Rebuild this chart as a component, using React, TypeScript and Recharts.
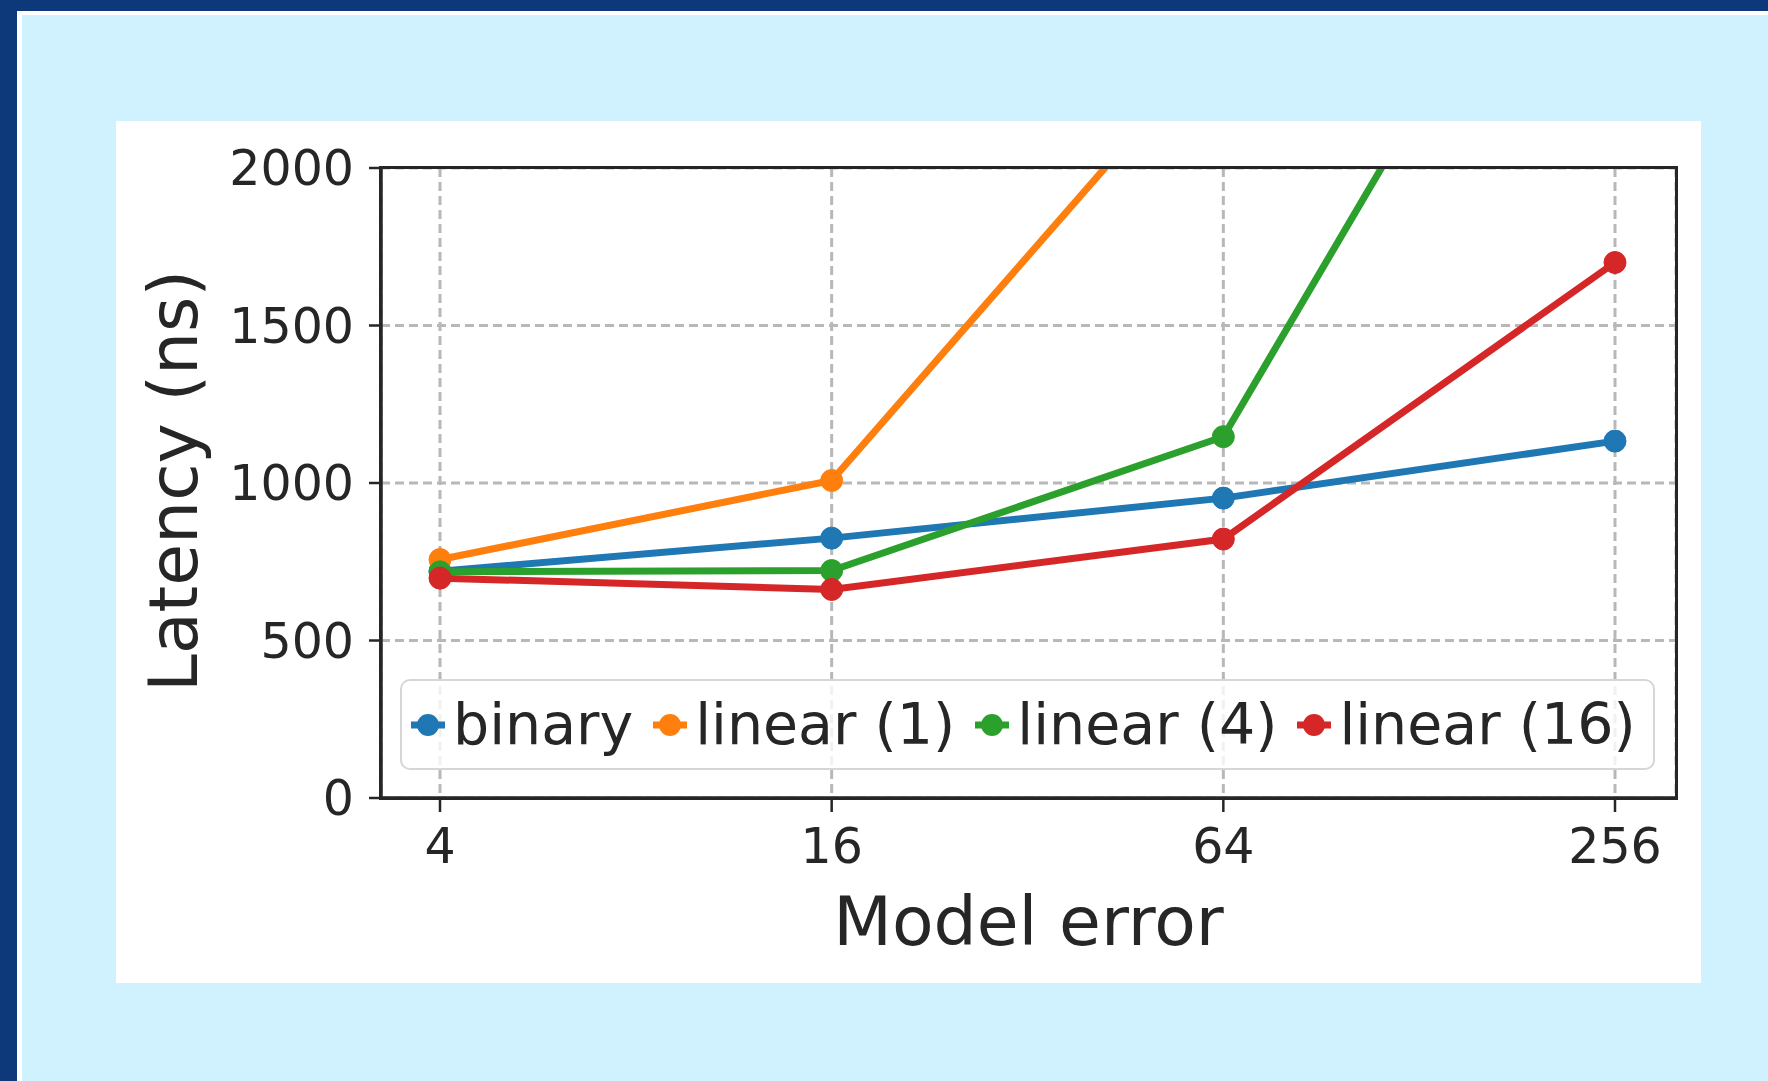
import { LineChart, Line, XAxis, YAxis, CartesianGrid, Legend, Label } from "recharts";

const errors = ["4", "16", "64", "256"];
const binary = [720, 825, 952, 1133];
const linear1 = [757, 1008, 2430, 4500];
const linear4 = [718, 722, 1147, 3260];
const linear16 = [698, 662, 822, 1700];
const yTicks = [0, 500, 1000, 1500, 2000];

const series = [
  { key: "binary", name: "binary", color: "#1f77b4", values: binary },
  { key: "linear1", name: "linear (1)", color: "#ff7f0e", values: linear1 },
  { key: "linear4", name: "linear (4)", color: "#2ca02c", values: linear4 },
  { key: "linear16", name: "linear (16)", color: "#d62728", values: linear16 },
];

const data = errors.map((error, i) => {
  const row: Record<string, string | number> = { error };
  series.forEach((s) => (row[s.key] = s.values[i]));
  return row;
});

const font = '"DejaVu Sans", sans-serif';
const ink = "#262626";

// plot box inside the white panel
const W = 1585;
const H = 862;
const M = { top: 47, right: 25, left: 0, bottom: 0 };
const yAxisW = 265;
const xAxisH = 185;

function LegendBox() {
  return (
    <div
      style={{
        boxSizing: "border-box",
        width: 1255,
        height: 91,
        border: "2.5px solid #d6d6d6",
        borderRadius: 10,
        background: "rgba(255,255,255,0.8)",
        display: "flex",
        alignItems: "center",
        paddingLeft: 9,
        fontFamily: font,
        fontSize: 57,
        color: ink,
        whiteSpace: "nowrap",
      }}
    >
      {series.map((s) => (
        <div key={s.key} style={{ display: "flex", alignItems: "center", marginRight: 20, flexShrink: 0 }}>
          <svg width={34} height={24}>
            <line x1={0} y1={12} x2={34} y2={12} stroke={s.color} strokeWidth={7} />
            <circle cx={17} cy={12} r={11} fill={s.color} />
          </svg>
          <span style={{ marginLeft: 8, lineHeight: 1 }}>{s.name}</span>
        </div>
      ))}
    </div>
  );
}

export default function App() {
  const plotW = W - M.left - M.right - yAxisW;
  const plotH = H - M.top - M.bottom - xAxisH;
  return (
    <div style={{ position: "fixed", inset: 0, width: 1768, height: 1081, background: "#0d397b" }}>
      <div style={{ position: "absolute", left: 17, top: 11, right: 0, bottom: 0, background: "#ffffff" }} />
      <div style={{ position: "absolute", left: 22, top: 15, right: 0, bottom: 0, background: "#cff2fe" }} />
      <div style={{ position: "absolute", left: 116, top: 121, width: W, height: H, background: "#ffffff" }}>
        <LineChart width={W} height={H} data={data} margin={M}>
          <CartesianGrid stroke="#b8b8b8" strokeWidth={3} strokeDasharray="9 5" />
          <XAxis
            dataKey="error"
            type="category"
            height={xAxisH}
            padding={{ left: 59, right: 61 }}
            axisLine={{ stroke: ink, strokeWidth: 3.5 }}
            tickLine={{ stroke: ink, strokeWidth: 2.5 }}
            tickSize={14}
            tickMargin={16}
            tick={{ fontSize: 49, fill: ink, fontFamily: font }}
          >
            <Label
              content={(p: any) => {
                const vb = p.viewBox;
                return (
                  <text
                    x={vb.x + vb.width / 2}
                    y={vb.y + 147}
                    textAnchor="middle"
                    fontSize={68}
                    fill={ink}
                    fontFamily={font}
                  >
                    Model error
                  </text>
                );
              }}
            />
          </XAxis>
          <YAxis
            width={yAxisW}
            domain={[0, 2000]}
            ticks={yTicks}
            allowDataOverflow
            axisLine={{ stroke: ink, strokeWidth: 3.5 }}
            tickLine={{ stroke: ink, strokeWidth: 2.5 }}
            tickSize={12}
            tickMargin={15}
            tick={{ fontSize: 49, fill: ink, fontFamily: font }}
          >
            <Label
              content={(p: any) => {
                const vb = p.viewBox;
                const x = vb.x + 81;
                const y = vb.y + vb.height / 2 - 2;
                return (
                  <text
                    x={x}
                    y={y}
                    transform={`rotate(-90 ${x} ${y})`}
                    textAnchor="middle"
                    fontSize={68}
                    fill={ink}
                    fontFamily={font}
                  >
                    Latency (ns)
                  </text>
                );
              }}
            />
          </YAxis>
          {series.map((s) => (
            <Line
              key={s.key}
              type="linear"
              dataKey={s.key}
              name={s.name}
              stroke={s.color}
              strokeWidth={7}
              dot={{ r: 11, fill: s.color, stroke: s.color, strokeWidth: 1 }}
              activeDot={false}
              isAnimationActive={false}
            />
          ))}
          <Legend
            layout="vertical"
            align="center"
            verticalAlign="middle"
            width={1255}
            content={() => <LegendBox />}
            wrapperStyle={{ left: 284, top: 558, width: 1255, height: 91 }}
          />
        </LineChart>
        {/* axes frame (matplotlib spines) */}
        <div
          style={{
            position: "absolute",
            boxSizing: "border-box",
            left: M.left + yAxisW - 1.75,
            top: M.top - 1.75,
            width: plotW + 3.5,
            height: plotH + 3.5,
            border: `3.5px solid ${ink}`,
            pointerEvents: "none",
          }}
        />
      </div>
    </div>
  );
}
